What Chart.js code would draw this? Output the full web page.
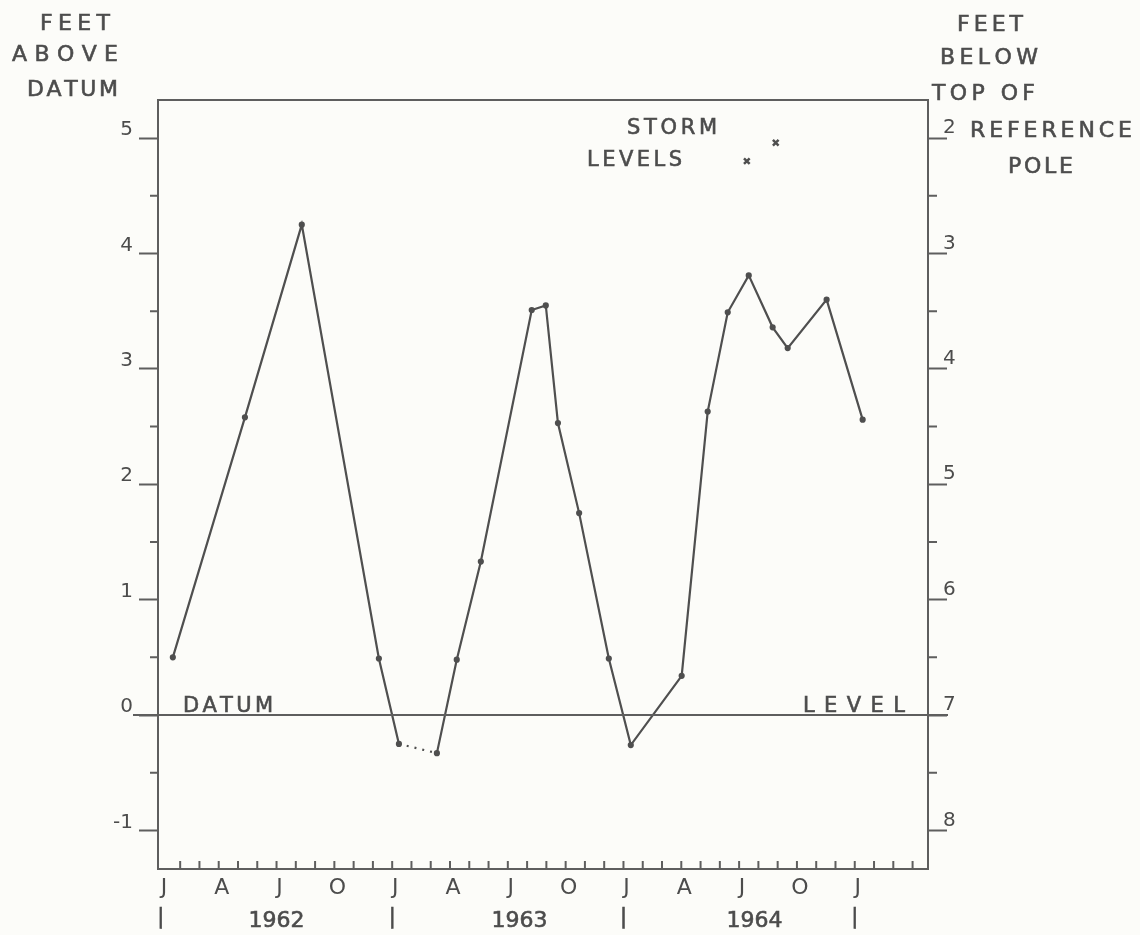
<!DOCTYPE html>
<html>
<head>
<meta charset="utf-8">
<title>Water levels 1962-1964</title>
<script src="https://cdn.jsdelivr.net/npm/chart.js@4.4.1/dist/chart.umd.min.js"></script>
<style>
  html, body { margin: 0; padding: 0; background: #fcfcf9; }
  canvas { display: block; }
</style>
</head>
<body>
<canvas id="chart" width="1140" height="935"></canvas>
<script>
// months counted from the start of January 1962
const obsMonths = [0.62, 4.36, 7.31, 11.31, 12.35, 14.32, 15.35, 16.6, 19.24, 19.97, 20.6, 21.7,
                   23.24, 24.38, 27.02, 28.37, 29.41, 30.5, 31.74, 32.52, 34.54, 36.41];
const obsFeet   = [0.50, 2.58, 4.25, 0.49, -0.25, -0.33, 0.48, 1.33, 3.51, 3.55, 2.53, 1.75,
                   0.49, -0.26, 0.34, 2.63, 3.49, 3.81, 3.36, 3.18, 3.60, 2.56];
const stormMonths = [30.4, 31.9];
const stormFeet   = [4.80, 4.96];

const monthLetters = ['J', 'F', 'M', 'A', 'M', 'J', 'J', 'A', 'S', 'O', 'N', 'D'];
const years       = ['1962', '1963', '1964'];
const yearCenters = [6, 18.6, 30.8];
const yearBreaks  = [0, 12, 24, 36];
const halfFeet    = [-0.5, 0.5, 1.5, 2.5, 3.5, 4.5];

const POLE_TOP = 7;            // datum lies 7 ft below the top of the reference pole
const X_MIN = -0.15, X_MAX = 39.8;
const Y_MIN = -1.334, Y_MAX = 5.33;

const INK = '#4c4c4c';
const LINE = '#5e5e5e';
const FONT = '"DejaVu Sans", sans-serif';

// draw a word with its letters spread between x0 and x1
function spaced(ctx, text, x0, x1, y, size) {
    ctx.font = `${size}px ${FONT}`;
    const chars = [...text];
    const widths = chars.map(c => ctx.measureText(c).width);
    const total = widths.reduce((a, b) => a + b, 0);
    const gap = chars.length > 1 ? (x1 - x0 - total) / (chars.length - 1) : 0;
    let x = x0;
    chars.forEach((c, i) => {
        ctx.fillText(c, x, y);
        ctx.strokeText(c, x, y);
        x += widths[i] + gap;
    });
}

const decorations = {
    id: 'decorations',
    afterDraw(chart) {
        const { ctx, chartArea: a, scales } = chart;
        const xs = scales.x, ys = scales.y;
        ctx.save();
        ctx.strokeStyle = LINE;
        ctx.lineWidth = 2;
        ctx.lineCap = 'butt';

        // top frame line
        ctx.beginPath();
        ctx.moveTo(a.left - 1, a.top);
        ctx.lineTo(a.right + 1, a.top);
        ctx.stroke();

        // datum line
        const y0 = ys.getPixelForValue(0);
        ctx.beginPath();
        ctx.moveTo(a.left - 25, y0);
        ctx.lineTo(a.right + 20, y0);
        ctx.stroke();

        // half-foot ticks on both sides
        halfFeet.forEach(v => {
            const y = ys.getPixelForValue(v);
            ctx.beginPath();
            ctx.moveTo(a.left - 8, y); ctx.lineTo(a.left, y);
            ctx.moveTo(a.right, y); ctx.lineTo(a.right + 9, y);
            ctx.stroke();
        });

        // monthly ticks, pointing into the plot
        for (let m = 1; m <= Math.floor(X_MAX); m++) {
            const x = xs.getPixelForValue(m);
            ctx.beginPath();
            ctx.moveTo(x, a.bottom);
            ctx.lineTo(x, a.bottom - 8);
            ctx.stroke();
        }

        ctx.fillStyle = INK;
        ctx.strokeStyle = INK;
        ctx.lineWidth = 0.6;
        ctx.textBaseline = 'middle';
        ctx.textAlign = 'center';

        // year row
        ctx.font = `22px ${FONT}`;
        years.forEach((t, i) => {
            const x = xs.getPixelForValue(yearCenters[i]);
            ctx.fillText(t, x, a.bottom + 52);
            ctx.strokeText(t, x, a.bottom + 52);
        });
        ctx.font = `21px ${FONT}`;
        yearBreaks.forEach(m => {
            const x = xs.getPixelForValue(m);
            ctx.fillText('|', x, a.bottom + 49);
            ctx.strokeText('|', x, a.bottom + 49);
        });

        ctx.textAlign = 'left';
        // axis headings
        spaced(ctx, 'FEET', 40, 110, 24, 22);
        spaced(ctx, 'ABOVE', 12, 118, 55, 22);
        spaced(ctx, 'DATUM', 27, 118, 90, 22);
        spaced(ctx, 'FEET', 957, 1023, 25, 22);
        spaced(ctx, 'BELOW', 940, 1038, 58, 22);
        spaced(ctx, 'TOP OF', 932, 1035, 94, 22);
        spaced(ctx, 'REFERENCE', 970, 1132, 131, 22);
        spaced(ctx, 'POLE', 1008, 1073, 167, 22);

        // labels inside the plot
        spaced(ctx, 'DATUM', 183, 273, y0 - 9, 21);
        spaced(ctx, 'LEVEL', 803, 905, y0 - 9, 21);
        spaced(ctx, 'STORM', 627, 717, 129, 21);
        spaced(ctx, 'LEVELS', 587, 682, 161, 21);
        ctx.restore();
    }
};

const tickFont = { family: FONT, size: 20 };

new Chart(document.getElementById('chart'), {
    type: 'scatter',
    data: {
        datasets: [
            {
                label: 'Water level',
                data: obsMonths.map((m, i) => ({ x: m, y: obsFeet[i] })),
                showLine: true,
                borderColor: '#4f4f4f',
                backgroundColor: '#4f4f4f',
                borderWidth: 2.2,
                pointRadius: 2,
                pointHoverRadius: 2,
                tension: 0,
                segment: {
                    borderDash: ctx => (ctx.p0DataIndex === 4 ? [2, 6] : undefined)
                }
            },
            {
                label: 'Storm levels',
                data: stormMonths.map((m, i) => ({ x: m, y: stormFeet[i] })),
                showLine: false,
                pointStyle: 'crossRot',
                pointRadius: 4,
                borderColor: '#4f4f4f',
                borderWidth: 2.5
            }
        ]
    },
    options: {
        responsive: false,
        animation: false,
        devicePixelRatio: 1,
        layout: { padding: { top: 100, left: 0, right: 0, bottom: 0 } },
        plugins: {
            legend: { display: false },
            tooltip: { enabled: false }
        },
        scales: {
            x: {
                type: 'linear',
                position: 'bottom',
                min: X_MIN,
                max: X_MAX,
                afterFit: s => { s.height = 66; },
                grid: { display: false, drawTicks: false },
                border: { display: true, color: LINE, width: 2 },
                ticks: {
                    stepSize: 3,
                    includeBounds: false,
                    autoSkip: false,
                    maxRotation: 0,
                    padding: 6,
                    labelOffset: 3,
                    color: INK,
                    font: { family: FONT, size: 22 },
                    callback: v => {
                        const m = Math.round(v);
                        return m <= 36 ? monthLetters[m % 12] : '';
                    }
                }
            },
            y: {
                type: 'linear',
                position: 'left',
                min: Y_MIN,
                max: Y_MAX,
                afterFit: s => { s.width = 158; },
                grid: { drawOnChartArea: false, drawTicks: true, tickLength: 19, tickColor: LINE, tickWidth: 2 },
                border: { display: true, color: LINE, width: 2 },
                ticks: {
                    stepSize: 1,
                    includeBounds: false,
                    padding: 6,
                    labelOffset: -8,
                    color: INK,
                    font: tickFont,
                    callback: v => String(v)
                }
            },
            y2: {
                type: 'linear',
                position: 'right',
                reverse: true,
                min: POLE_TOP - Y_MAX,
                max: POLE_TOP - Y_MIN,
                afterFit: s => { s.width = 212; },
                grid: { drawOnChartArea: false, drawTicks: true, tickLength: 19, tickColor: LINE, tickWidth: 2 },
                border: { display: true, color: LINE, width: 2 },
                ticks: {
                    stepSize: 1,
                    includeBounds: false,
                    padding: -4,
                    labelOffset: -10,
                    color: INK,
                    font: tickFont,
                    callback: v => String(v)
                }
            }
        }
    },
    plugins: [decorations]
});
</script>
</body>
</html>
